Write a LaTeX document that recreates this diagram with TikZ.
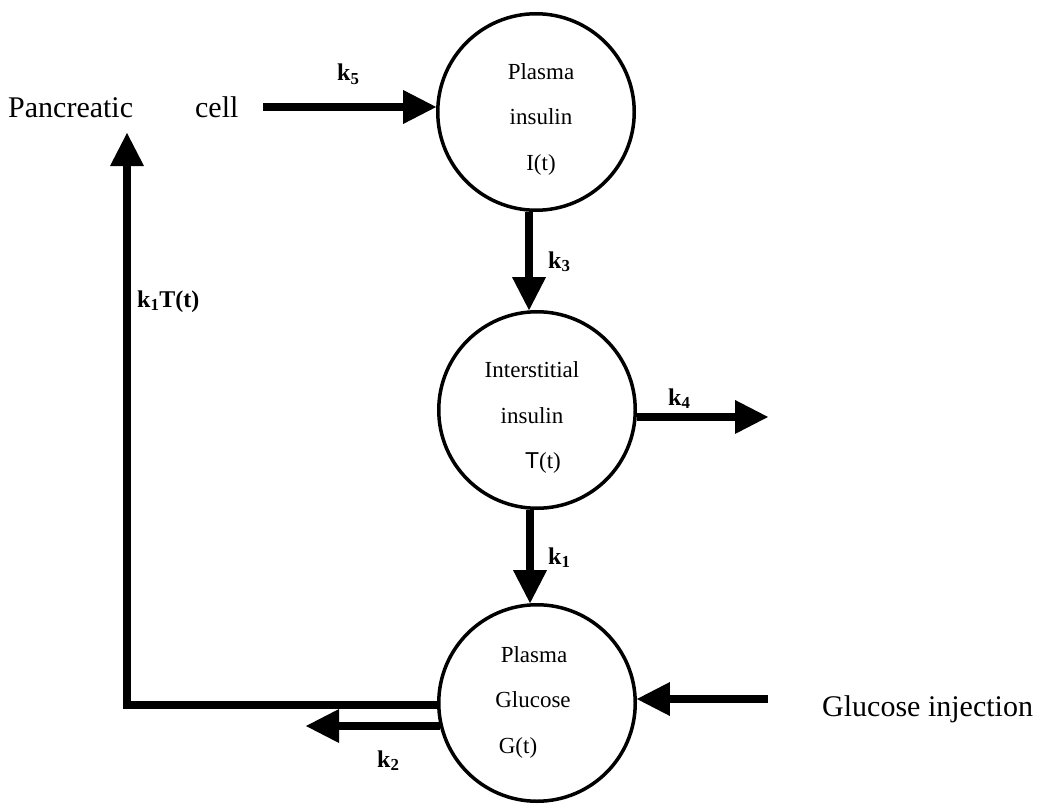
\documentclass[tikz,border=0pt]{standalone}
\usepackage{fontspec}
\setmainfont{Liberation Serif}
\setsansfont{Liberation Sans}
\usetikzlibrary{arrows.meta}
\begin{document}
\begin{tikzpicture}[x=1bp,y=-1bp,
  compartment/.style={circle,draw,line width=3.5bp,minimum size=196.5bp,inner sep=0pt},
  inlabel/.style={anchor=base,inner sep=0pt,font=\fontsize{23bp}{27bp}\selectfont},
  outlabel/.style={anchor=base west,inner sep=0pt,font=\fontsize{30bp}{36bp}\selectfont},
  rate/.style={anchor=base west,inner sep=0pt,font=\fontsize{24bp}{28bp}\selectfont\bfseries},
  flow/.style={line width=8bp,-{Triangle[length=33bp,width=34bp,line width=0pt]}},
  pipe/.style={line width=8bp,line join=miter}]
\useasboundingbox (0,0) rectangle (1037,807);

% compartments
\node[compartment] (pi) at (536,112) {};
\node[compartment] (ii) at (537,410) {};
\node[compartment] (gl) at (537,703) {};

% compartment texts
\node[inlabel] (pi1) at (541,80)  {Plasma};
\node[inlabel] (pi2) at (541,124) {insulin};
\node[inlabel] (pi3) at (541,170) {I(t)};
\node[inlabel] (ii1) at (532,377) {Interstitial};
\node[inlabel] (ii2) at (532,423) {insulin};
\node[inlabel] (ii3) at (543,468) {{\sffamily T}(t)};
\node[inlabel] (gl1) at (534,662) {Plasma};
\node[inlabel] (gl2) at (533,707) {Glucose};
\node[inlabel] (gl3) at (518,753) {G(t)};

% outer texts
\node[outlabel] (pc) at (8,117) {Pancreatic\hspace{62bp}cell};
\node[outlabel] (inj) at (822,716) {Glucose injection};

% free ends of the connectors
\coordinate (k5start) at (263,107);
\coordinate (k4end) at (768,416);
\coordinate (injstart) at (768,699);
\coordinate (fbtop) at (127,133);
\coordinate (k2end) at (306,726);

% connectors
\draw[flow] (k5start) -- (k5start -| pi.177.1);
\draw[flow] (pi.266.6) -- (pi.266.6 |- ii.93.4);
\draw[flow] (ii.266.6) -- (ii.266.6 |- gl.93.4);
\draw[flow] (ii.356.6) -- (ii.356.6 -| k4end);
\draw[flow] (injstart) -- (injstart -| gl.2.3);
\draw[pipe] (gl.181.7) -| ([yshift=-35bp]fbtop);
\draw[flow] ([yshift=-36bp]fbtop) -- (fbtop);
\draw[flow] (k2end -| gl.193.3) -- (k2end);

% rate constants
\node[rate] (k5) at (337,81)  {k\textsubscript{5}};
\node[rate] (k3) at (548,268) {k\textsubscript{3}};
\node[rate] (k1) at (548,564) {k\textsubscript{1}};
\node[rate] (k4) at (668,405) {k\textsubscript{4}};
\node[rate] (k2) at (377,767) {k\textsubscript{2}};
\node[rate] (k1t) at (137,307) {k\textsubscript{1}T(t)};
\end{tikzpicture}
\end{document}
